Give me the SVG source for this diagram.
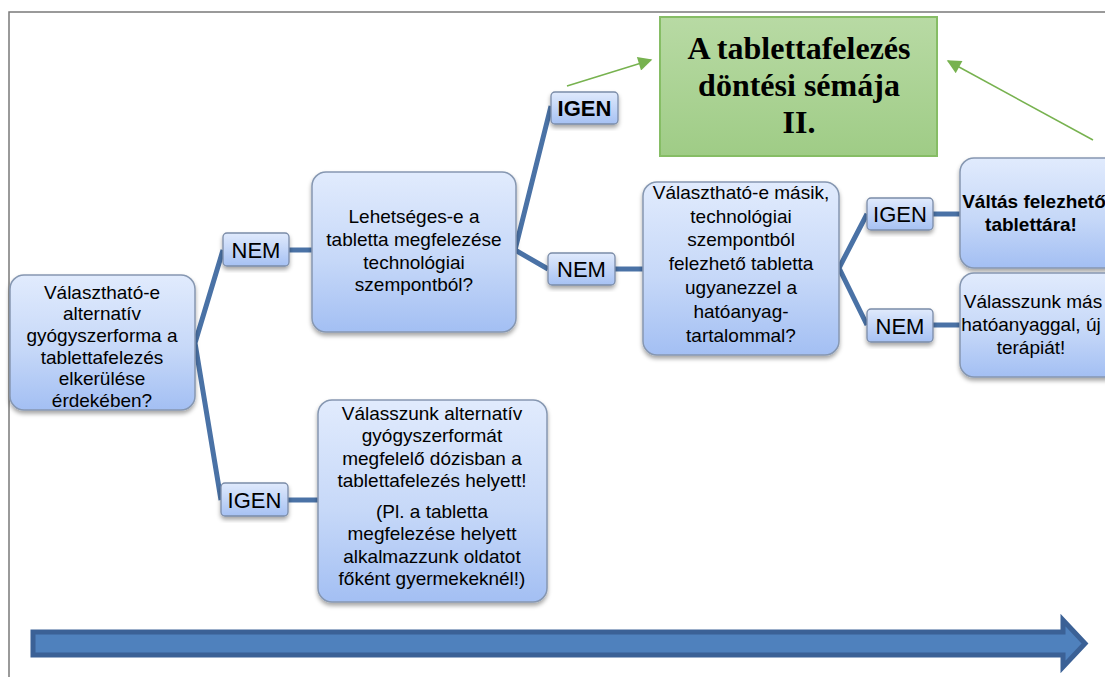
<svg xmlns="http://www.w3.org/2000/svg" width="1105" height="677" viewBox="0 0 1105 677">
<defs>
<linearGradient id="gNode" x1="0" y1="0" x2="0" y2="1">
<stop offset="0" stop-color="#e1ebfd"/>
<stop offset="0.55" stop-color="#c6d8f8"/>
<stop offset="1" stop-color="#a3bff3"/>
</linearGradient>
<linearGradient id="gLab" x1="0" y1="0" x2="0" y2="1">
<stop offset="0" stop-color="#e0eafc"/>
<stop offset="1" stop-color="#a6c1f3"/>
</linearGradient>
<linearGradient id="gTitle" x1="0" y1="0" x2="0" y2="1">
<stop offset="0" stop-color="#b8daa4"/>
<stop offset="1" stop-color="#9fcc86"/>
</linearGradient>
<filter id="sh" x="-10%" y="-10%" width="120%" height="130%">
<feDropShadow dx="0" dy="3" stdDeviation="2.2" flood-color="#000" flood-opacity="0.35"/>
</filter>
<marker id="ga" viewBox="0 0 10 10" refX="9" refY="5" markerWidth="7" markerHeight="7" markerUnits="userSpaceOnUse" orient="auto">
<path d="M0,0 L10,5 L0,10 z" fill="#77b24f"/>
</marker>
<marker id="gah" viewBox="0 0 10 10" refX="9" refY="5" markerWidth="18" markerHeight="14" markerUnits="userSpaceOnUse" orient="auto">
<path d="M0,0 L10,5 L0,10 z" fill="#77b24f"/>
</marker>
</defs>
<style>
.node{fill:url(#gNode);stroke:#8697b1;stroke-width:1.5;filter:url(#sh)}
.lab{fill:url(#gLab);stroke:#7b8ca8;stroke-width:1.3;filter:url(#sh)}
.t{font-family:"Liberation Sans",Arial,sans-serif;font-size:19px;fill:#000;text-anchor:middle}
.tb{font-family:"Liberation Sans",Arial,sans-serif;font-size:19px;font-weight:bold;fill:#000;text-anchor:middle}
.lt{font-family:"Liberation Sans",Arial,sans-serif;font-size:22px;fill:#000;text-anchor:middle}
.ltb{font-family:"Liberation Sans",Arial,sans-serif;font-size:22px;font-weight:bold;fill:#000;text-anchor:middle}
.title{font-family:"Liberation Serif","Times New Roman",serif;font-size:32px;font-weight:bold;fill:#000;text-anchor:middle}
.con{stroke:#4a72a6;stroke-width:5;fill:none;stroke-linecap:butt;stroke-linejoin:miter}
.gcon{stroke:#77b24f;stroke-width:1.5;fill:none}
</style>
<rect width="1105" height="677" fill="#ffffff"/>
<rect x="9" y="12" width="1200" height="700" fill="none" stroke="#7a7a7a" stroke-width="1.5"/>

<g id="connectors">
<polyline class="con" points="223,250 195,343 221,500"/>
<line class="con" x1="289" y1="250" x2="312" y2="250"/>
<line class="con" x1="288" y1="500" x2="318" y2="500"/>
<polyline class="con" points="551,106 515,250 548,269"/>
<line class="con" x1="615" y1="269" x2="643" y2="269"/>
<polyline class="con" points="867,214 839,268 867,325"/>
<line class="con" x1="933" y1="214" x2="960" y2="214"/>
<line class="con" x1="933" y1="325" x2="960" y2="325"/>
<line class="gcon" x1="567" y1="86" x2="651" y2="60" marker-end="url(#gah)"/>
<line class="gcon" x1="1093" y1="140" x2="948" y2="61" marker-end="url(#gah)"/>
</g>

<g id="title">
<rect x="660" y="17" width="277" height="139" fill="url(#gTitle)" stroke="#86bd65" stroke-width="2"/>
<text class="title" x="799" y="59">A tablettafelezés</text>
<text class="title" x="799" y="96">döntési sémája</text>
<text class="title" x="799" y="133">II.</text>
</g>

<g id="node1">
<rect class="node" x="10" y="275" width="185" height="135" rx="14"/>
<text class="t" x="102" y="298.5">Választható-e</text>
<text class="t" x="102" y="320">alternatív</text>
<text class="t" x="102" y="342">gyógyszerforma a</text>
<text class="t" x="102" y="363.5">tablettafelezés</text>
<text class="t" x="102" y="385">elkerülése</text>
<text class="t" x="102" y="407">érdekében?</text>
</g>

<g id="nem1">
<rect class="lab" x="223" y="233" width="66" height="33" rx="4"/>
<text class="lt" x="256" y="257.5">NEM</text>
</g>

<g id="igen1">
<rect class="lab" x="221" y="483" width="67" height="33" rx="4"/>
<text class="lt" x="254.5" y="507.5">IGEN</text>
</g>

<g id="node2">
<rect class="node" x="312" y="172" width="204" height="160" rx="14"/>
<text class="t" x="414" y="223">Lehetséges-e a</text>
<text class="t" x="414" y="246">tabletta megfelezése</text>
<text class="t" x="414" y="268.5">technológiai</text>
<text class="t" x="414" y="291">szempontból?</text>
</g>

<g id="node4">
<rect class="node" x="318" y="400" width="229" height="202" rx="14"/>
<text class="t" x="432" y="420">Válasszunk alternatív</text>
<text class="t" x="432" y="442">gyógyszerformát</text>
<text class="t" x="432" y="465">megfelelő dózisban a</text>
<text class="t" x="432" y="487">tablettafelezés helyett!</text>
<text class="t" x="432" y="518">(Pl. a tabletta</text>
<text class="t" x="432" y="540">megfelezése helyett</text>
<text class="t" x="432" y="563">alkalmazzunk oldatot</text>
<text class="t" x="432" y="585">főként gyermekeknél!)</text>
</g>

<g id="igen2">
<rect class="lab" x="551" y="92" width="67" height="32" rx="4"/>
<text class="ltb" x="584.5" y="116">IGEN</text>
</g>

<g id="nem2">
<rect class="lab" x="548" y="253" width="67" height="32" rx="4"/>
<text class="lt" x="581.5" y="277">NEM</text>
</g>

<g id="node3">
<rect class="node" x="643" y="182" width="196" height="173" rx="14"/>
<text class="t" x="741" y="199">Választható-e másik,</text>
<text class="t" x="741" y="222.5">technológiai</text>
<text class="t" x="741" y="246">szempontból</text>
<text class="t" x="741" y="270">felezhető tabletta</text>
<text class="t" x="741" y="294">ugyanezzel a</text>
<text class="t" x="741" y="318">hatóanyag-</text>
<text class="t" x="741" y="342">tartalommal?</text>
</g>

<g id="igen3">
<rect class="lab" x="867" y="198" width="66" height="32" rx="4"/>
<text class="lt" x="900" y="222">IGEN</text>
</g>

<g id="nem3">
<rect class="lab" x="867" y="309" width="66" height="33" rx="4"/>
<text class="lt" x="900" y="333.5">NEM</text>
</g>

<g id="node5">
<rect class="node" x="960" y="158" width="170" height="110" rx="14"/>
<text class="tb" x="1034" y="208">Váltás felezhető</text>
<text class="tb" x="1031" y="231">tablettára!</text>
</g>

<g id="node6">
<rect class="node" x="960" y="273" width="170" height="104" rx="14"/>
<text class="t" x="1033" y="307.5">Válasszunk más</text>
<text class="t" x="1031" y="330.5">hatóanyaggal, új</text>
<text class="t" x="1031" y="353.5">terápiát!</text>
</g>

<g id="arrow">
<path d="M33,632 L1063,632 L1063,620 L1085,643.5 L1063,667 L1063,655 L33,655 Z" fill="#4f81bd" stroke="#3b6196" stroke-width="5" stroke-linejoin="miter"/>
</g>
</svg>
